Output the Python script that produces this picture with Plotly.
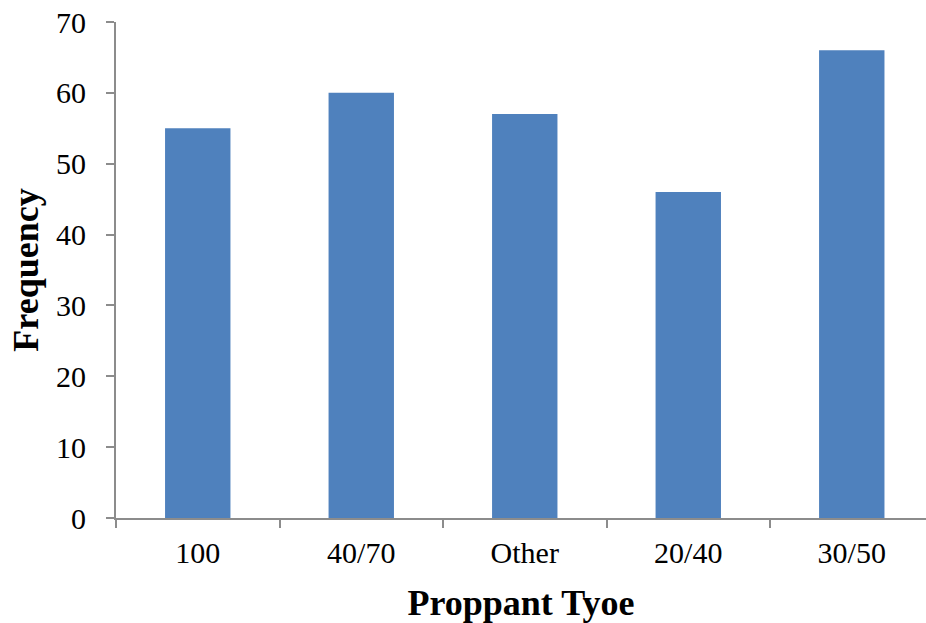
import plotly.graph_objects as go

categories = ["100", "40/70", "Other", "20/40", "30/50"]
values = [55, 60, 57, 46, 66]

fig = go.Figure(go.Bar(x=categories, y=values, marker=dict(color="#4F81BD", line=dict(width=0)), width=0.4))

font = "Liberation Serif, Times New Roman, serif"
fig.update_layout(
    width=926, height=623,
    margin=dict(l=116, r=0, t=22, b=105),
    paper_bgcolor="white", plot_bgcolor="white",
    font=dict(family=font, size=30, color="black"),
    showlegend=False,
    xaxis=dict(
        type="category",
        range=[-0.5, 4.454],
        showline=True, linecolor="#8C8C8C", linewidth=2,
        ticks="outside", ticklen=8, tickwidth=2, tickcolor="#8C8C8C",
        tickson="boundaries",
        showgrid=False,
        tickfont=dict(size=30),
        ticklabelstandoff=7,
        title=dict(text="<b>Proppant Tyoe</b>", font=dict(size=36), standoff=22),
    ),
    yaxis=dict(
        range=[0, 70], dtick=10,
        showline=True, linecolor="#8C8C8C", linewidth=2,
        ticks="outside", ticklen=8, tickwidth=2, tickcolor="#8C8C8C",
        showgrid=False, zeroline=False,
        tickfont=dict(size=30),
        ticklabelstandoff=14,
        title=dict(text="<b>Frequency</b>", font=dict(size=36), standoff=6),
    ),
)

fig.write_html("out.html")
